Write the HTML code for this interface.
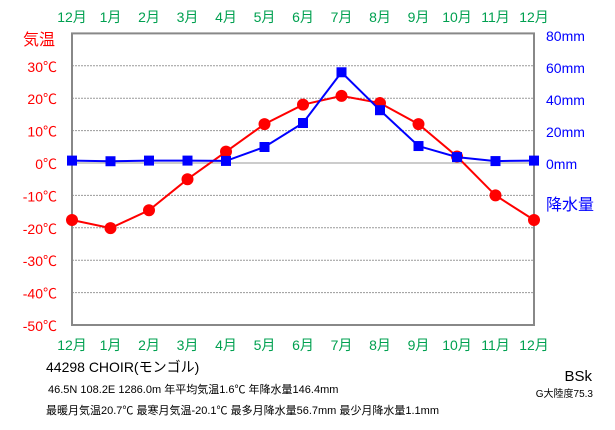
<!DOCTYPE html>
<html><head><meta charset="utf-8"><style>
body{margin:0;background:#fff;width:615px;height:425px;overflow:hidden}
svg text{font-family:"Liberation Sans","Noto Sans CJK JP",sans-serif}
</style></head><body>
<svg id="c" width="615" height="425" xmlns="http://www.w3.org/2000/svg"></svg>
<script>
const months=["12月","1月","2月","3月","4月","5月","6月","7月","8月","9月","10月","11月","12月"];
const temps=[-17.6,-20.1,-14.6,-5.0,3.5,12.0,18.0,20.7,18.5,12.0,2.0,-10.0,-17.6];
const precip=[1.5,1.1,1.5,1.5,1.3,10.0,25.0,56.7,33.0,10.6,3.7,1.2,1.5];
const tempTicks=[30,20,10,0,-10,-20,-30,-40,-50];
const precipTicks=[80,60,40,20,0];
const NS="http://www.w3.org/2000/svg";
const svg=document.getElementById('c');
const X0=72,X1=534;
const x=i=>X0+i*(X1-X0)/12;
const yT=t=>163-t*3.24;
const yP=p=>163-p*1.6;
function mk(tag,attrs,parent){const e=document.createElementNS(NS,tag);for(const k in attrs)e.setAttribute(k,attrs[k]);(parent||svg).appendChild(e);return e;}
// grid
tempTicks.forEach(t=>{if(t<40&&t>-50){const l=mk('line',{x1:X0,x2:X1,y1:yT(t),y2:yT(t),stroke:'#999','stroke-width':1,'stroke-dasharray':t===0?'':'2,1'});

}});
const fr=mk('rect',{x:X0,y:yT(40),width:X1-X0,height:yT(-50)-yT(40),fill:'none',stroke:'#888','stroke-width':2});


// left ticks
tempTicks.forEach(t=>{const e=mk('text',{x:57,y:yT(t)+6,'text-anchor':'end','font-size':14,fill:'#f00'});e.textContent=t+'℃';

});
precipTicks.forEach(p=>{const e=mk('text',{x:546,y:yP(p)+6,'font-size':14,fill:'#00f'});e.textContent=p+'mm';

});
let e=mk('text',{x:23,y:45,'font-size':16,fill:'#f00'});e.textContent='気温';


e=mk('text',{x:546,y:210,'font-size':16,fill:'#00f'});e.textContent='降水量';


months.forEach((m,i)=>{[22,350].forEach(yy=>{const t=mk('text',{x:x(i),y:yy,'text-anchor':'middle','font-size':14,fill:'#00a050'});t.textContent=m;

});});
// temp series
const tl=mk('polyline',{points:temps.map((t,i)=>x(i)+','+yT(t)).join(' '),fill:'none',stroke:'#f00','stroke-width':2});


temps.forEach((t,i)=>{const c=mk('circle',{cx:x(i),cy:yT(t),r:6,fill:'#f00'});

});
const pl=mk('polyline',{points:precip.map((p,i)=>x(i)+','+yP(p)).join(' '),fill:'none',stroke:'#00f','stroke-width':2});


precip.forEach((p,i)=>{const r=mk('rect',{x:x(i)-5,y:yP(p)-5,width:10,height:10,fill:'#00f'});

});
// footer
const foot=[[46,372,14,'44298  CHOIR(モンゴル)','station-name'],[48,393,11,'46.5N  108.2E  1286.0m 年平均気温1.6℃ 年降水量146.4mm','station-info'],[46,414,11,'最暖月気温20.7℃ 最寒月気温-20.1℃ 最多月降水量56.7mm 最少月降水量1.1mm','station-extremes']];
foot.forEach(f=>{const t=mk('text',{x:f[0],y:f[1],'font-size':f[2],fill:'#000'});t.textContent=f[3];

});
e=mk('text',{x:592,y:381,'text-anchor':'end','font-size':15,fill:'#000'});e.textContent='BSk';


e=mk('text',{x:593,y:397,'text-anchor':'end','font-size':10,fill:'#000'});e.textContent='G大陸度75.3';


</script>
</body></html>
